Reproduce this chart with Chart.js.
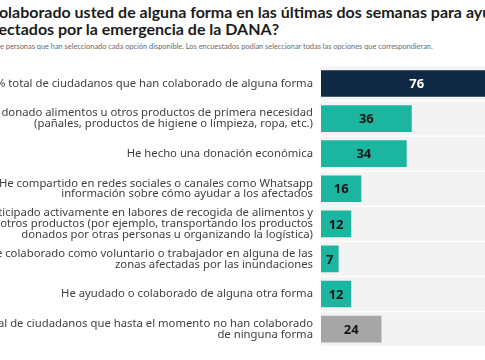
<!DOCTYPE html>
<html>
<head>
<meta charset="utf-8">
<script src="https://cdn.jsdelivr.net/npm/chart.js@4.4.1/dist/chart.umd.min.js"></script>
<style>
  html, body { margin: 0; padding: 0; background: #fff; overflow: hidden; width: 485px; height: 360px; }
  .t { position: absolute; white-space: nowrap; }
  .title { font-family: Lato, sans-serif; font-weight: 700; font-size: 16px; color: #1c1c1c; line-height: 16px; }
  .sub { font-family: Lato, sans-serif; font-size: 7.4px; color: #6a6a6a; }
  #wrap { position: absolute; left: -200px; top: 0; width: 800px; height: 360px; }
</style>
</head>
<body>
<div class="t title" style="left:-40px; top:4px">¿Ha colaborado usted de alguna forma en las últimas dos semanas para ayudar a los</div>
<div class="t title" style="left:-15px; top:21px">afectados por la emergencia de la DANA?</div>
<div class="t sub" style="left:-12px; top:42px">% de personas que han seleccionado cada opción disponible. Los encuestados podían seleccionar todas las opciones que correspondieran.</div>
<div id="wrap"><canvas id="chart"></canvas></div>
<script>
// categories (multi-line labels)
const categories = [
  ['% total de ciudadanos que han colaborado de alguna forma'],
  ['He donado alimentos u otros productos de primera necesidad', '(pañales, productos de higiene o limpieza, ropa, etc.)'],
  ['He hecho una donación económica'],
  ['He compartido en redes sociales o canales como Whatsapp', 'información sobre cómo ayudar a los afectados'],
  ['He participado activamente en labores de recogida de alimentos y', 'otros productos (por ejemplo, transportando los productos', 'donados por otras personas u organizando la logística)'],
  ['He colaborado como voluntario o trabajador en alguna de las', 'zonas afectadas por las inundaciones'],
  ['He ayudado o colaborado de alguna otra forma'],
  ['% total de ciudadanos que hasta el momento no han colaborado', 'de ninguna forma']
];
const values = [76, 36, 34, 16, 12, 7, 12, 24];
const barColors = ['#0f2945', '#1cb5a0', '#1cb5a0', '#1cb5a0', '#1cb5a0', '#1cb5a0', '#1cb5a0', '#a6a6a6'];
const labelColors = ['#ffffff', '#151515', '#151515', '#151515', '#151515', '#151515', '#151515', '#151515'];
const trackValues = [100, 100, 100, 100, 100, 100, 100, 100];

// writes the value in the middle of each bar
const valueLabels = {
  id: 'valueLabels',
  afterDatasetsDraw(chart) {
    const ctx = chart.ctx;
    const meta = chart.getDatasetMeta(0);
    ctx.save();
    ctx.font = 'bold 13px "Noto Sans", sans-serif';
    ctx.textAlign = 'center';
    ctx.textBaseline = 'middle';
    meta.data.forEach((bar, i) => {
      ctx.fillStyle = labelColors[i];
      ctx.fillText(values[i], (bar.base + bar.x) / 2, bar.y + 1);
    });
    ctx.restore();
  }
};

new Chart(document.getElementById('chart'), {
  type: 'bar',
  data: {
    labels: categories,
    datasets: [
      {
        data: values,
        backgroundColor: barColors,
        barPercentage: 0.76,
        categoryPercentage: 1,
        grouped: false
      },
      {
        data: trackValues,
        backgroundColor: '#f3f3f3',
        barPercentage: 0.965,
        categoryPercentage: 1,
        grouped: false
      }
    ]
  },
  options: {
    indexAxis: 'y',
    responsive: true,
    maintainAspectRatio: false,
    animation: false,
    layout: { padding: { top: 66, bottom: 11, left: 0, right: 27 } },
    plugins: {
      legend: { display: false },
      tooltip: { enabled: false }
    },
    scales: {
      x: { display: false, min: 0, max: 100 },
      y: {
        afterFit(scale) { scale.width = 521; },
        border: { display: false },
        grid: { display: false, drawTicks: false },
        ticks: {
          padding: 8,
          color: '#404040',
          font: { family: '"Noto Sans", sans-serif', size: 11.3, lineHeight: 0.95 }
        }
      }
    }
  },
  plugins: [valueLabels]
});
</script>
</body>
</html>
